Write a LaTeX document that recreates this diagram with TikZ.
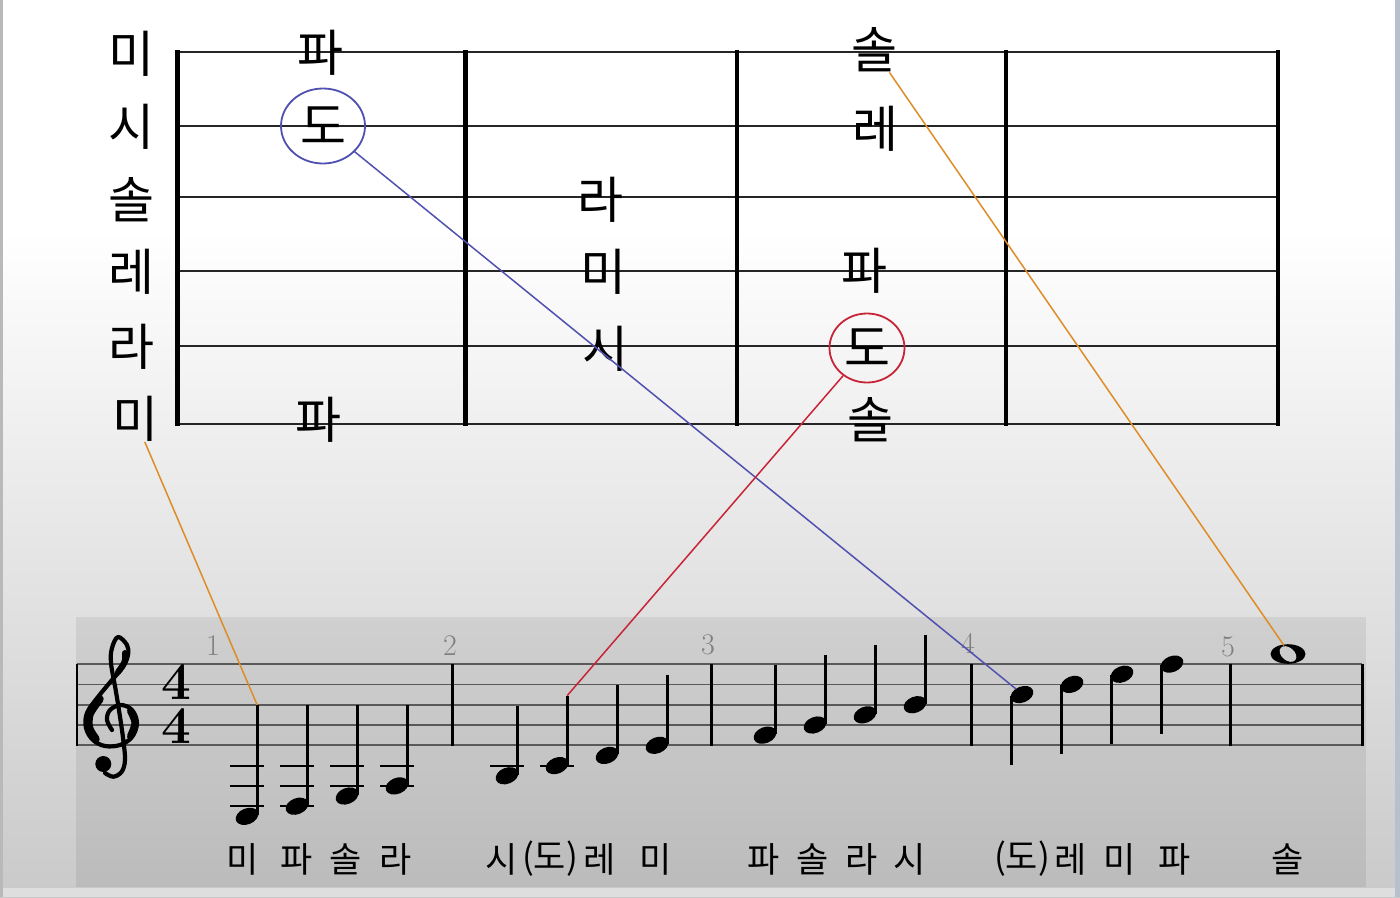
\documentclass[tikz,border=0pt]{standalone}
\usepackage{fontspec}
\newfontfamily\kr{Noto Sans CJK KR}
\usetikzlibrary{shapes.geometric}
\definecolor{ornge}{RGB}{222,140,40}
\definecolor{blu}{RGB}{80,80,176}
\definecolor{rd}{RGB}{200,36,56}
\definecolor{edgeblue}{RGB}{184,192,208}
\definecolor{holeg}{gray}{0.80}
\begin{document}
\begin{tikzpicture}[x=1pt,y=-1pt,
  kbig/.style={font=\kr\fontsize{50}{50}\selectfont, inner sep=0pt},
  ksm/.style={font=\kr\fontsize{35}{35}\selectfont, inner sep=0pt},
  mnum/.style={font=\fontsize{30}{30}\selectfont, text=black!50, inner sep=0pt},
  tsig/.style={font=\bfseries\fontsize{53}{44}\selectfont, inner sep=0pt, align=center},
  hline/.style={draw=black!85, line width=1.8},
  vline/.style={draw=black, line width=4.5},
  staffline/.style={draw=black!65, line width=1.8},
  barl/.style={draw=black, line width=3},
  stemline/.style={draw=black, line width=3},
  ledger/.style={draw=black, line width=2},
  conn/.style={line width=1.5},
]
\useasboundingbox (0,0) rectangle (1400,897);
% background
\fill[white] (0,0) rectangle (1400,231);
\shade[top color=white,bottom color=gray!42] (0,230) rectangle (1400,897);
\fill[black,opacity=0.07] (76,617) rectangle (1366,887);
\fill[gray!26] (0,888) rectangle (1400,897);
\fill[gray!55] (0,0) rectangle (2.5,897);
\fill[edgeblue] (1395,0) rectangle (1400,897);

% top grid
\foreach \y in {51.7,126,197.3,270.7,345.7,424}
  \draw[hline] (177,\y) -- (1278,\y);
\foreach \x in {177.3,465.7,737,1006,1278}
  \draw[vline] (\x,50) -- (\x,425.5);

% left column
\node[kbig] (l1) at (131,54) {미};
\node[kbig] (l2) at (131,127) {시};
\node[kbig] (l3) at (131,200) {솔};
\node[kbig] (l4) at (131,272) {레};
\node[kbig] (l5) at (131,347) {라};
\node[kbig] (l6) at (135,419) {미};
% column 1
\node[kbig] (a1) at (320,53) {파};
\node[kbig, ellipse, draw=blu, line width=1.8, minimum width=84pt, minimum height=75pt] (c1) at (323,126) {도};
\node[kbig] (a3) at (318,420) {파};
% column 2
\node[kbig] (b1) at (600,200) {라};
\node[kbig] (b2) at (603,272) {미};
\node[kbig] (b3) at (605,349) {시};
% column 3
\node[kbig] (d1) at (874,50) {솔};
\node[kbig] (d2) at (875,129) {레};
\node[kbig] (d3) at (864,271) {파};
\node[kbig, ellipse, draw=rd, line width=1.8, minimum width=75pt, minimum height=69pt] (c2) at (867,348) {도};
\node[kbig] (d5) at (870,420) {솔};

% staff
\foreach \y in {664.1,684.4,704.7,725,745.3}
  \draw[staffline] (77,\y) -- (1362,\y);
\draw[draw=black, line width=2] (77,663.5) -- (77,746);
\foreach \x in {452.5,711,971,1230.5,1362}
  \draw[barl] (\x,663.5) -- (\x,746);

% measure numbers
\node[mnum] (mn1) at (213,646) {1};
\node[mnum] (mn2) at (450,646) {2};
\node[mnum] (mn3) at (708,645) {3};
\node[mnum] (mn4) at (968,643) {4};
\node[mnum] (mn5) at (1228,647) {5};

% treble clef
\draw[line width=4.2, line cap=round, line join=round]
  plot[smooth, tension=0.6] coordinates {(112,730) (107,720) (110,710) (121,705) (132,710) (137,723) (132,737) (120,745) (105,746) (93,740) (86,728) (87,713) (98,697) (112,680) (123,667) (128,655) (127,645) (118,637) (112,648) (111,663) (115.7,690) (120,716.7) (123.3,740) (125,760) (121.7,771.7) (113.3,776.7) (105,773)};
\draw[line width=8.5, line cap=round] plot[smooth] coordinates {(99.5,699) (89.5,714) (89,728) (95.5,739)};
\draw[line width=7, line cap=round] plot[smooth] coordinates {(130.5,711) (135,723) (130.5,736)};
\draw[line width=6, line cap=round] plot[smooth] coordinates {(125,653) (124.5,662) (118,672)};
\fill (103.3,764) circle[radius=8];

% time signature
\node[tsig] (ts) at (176.5,704) {4\\4};

% ledger lines
\foreach \x/\y in {247/765.6,247/785.9,247/806.2,297/765.6,297/785.9,297/806.2,347/765.6,347/785.9,397/765.6,397/785.9,507/765.6,557/765.6}
  \draw[ledger] (\x-17,\y) -- (\x+17,\y);

% stem-up notes
\foreach \x/\y/\t in {247/816.35/705,297/806.2/705,347/796/705,397/785.9/705,
  507/775.75/706,557/765.6/695.6,607/755.45/685.45,657/745.3/675.3,
  765/735.15/665,815/725/655,865/714.85/645,915/704.7/635}{
  \fill[rotate around={22:(\x,\y)}] (\x,\y) ellipse[x radius=11.8,y radius=8];
  \draw[stemline] (\x+10.2,\y-1) -- (\x+10.2,\t);
}
% stem-down notes
\foreach \x/\y/\t in {1022/694.55/764.5,1072/684.4/754.4,1122/674.25/744.25,1172/664.1/734.1}{
  \fill[rotate around={22:(\x,\y)}] (\x,\y) ellipse[x radius=11.8,y radius=8];
  \draw[stemline] (\x-10.2,\y+1) -- (\x-10.2,\t);
}
% whole note
\fill (1288,654) ellipse[x radius=17.5,y radius=9.8];
\fill[holeg, rotate around={-40:(1288,654)}] (1288,654) ellipse[x radius=9.5,y radius=6.4];

% connector end points
\coordinate (n1top) at (257.2,705);
\coordinate (n6top) at (567.2,695.6);
\coordinate (n13) at (1016,689);
\coordinate (wn) at (1284,645.5);

% bottom labels
\node[ksm] (s1) at (243,859) {미};
\node[ksm] (s2) at (297,859) {파};
\node[ksm] (s3) at (346,859) {솔};
\node[ksm] (s4) at (396,859) {라};
\node[ksm] (s5) at (502,859) {시};
\node[ksm] (s6) at (550,859) {(도)};
\node[ksm] (s7) at (600,859) {레};
\node[ksm] (s8) at (656,859) {미};
\node[ksm] (s9) at (764,859) {파};
\node[ksm] (s10) at (813,859) {솔};
\node[ksm] (s11) at (862,859) {라};
\node[ksm] (s12) at (910,859) {시};
\node[ksm] (s13) at (1022,859) {(도)};
\node[ksm] (s14) at (1071,859) {레};
\node[ksm] (s15) at (1120,859) {미};
\node[ksm] (s16) at (1175,859) {파};
\node[ksm] (s17) at (1288,859) {솔};

% connectors
\draw[conn, ornge] (l6) -- (n1top);
\draw[conn, blu] (c1) -- (n13);
\draw[conn, rd] (c2) -- (n6top);
\draw[conn, ornge] (d1) -- (wn);
\end{tikzpicture}
\end{document}
